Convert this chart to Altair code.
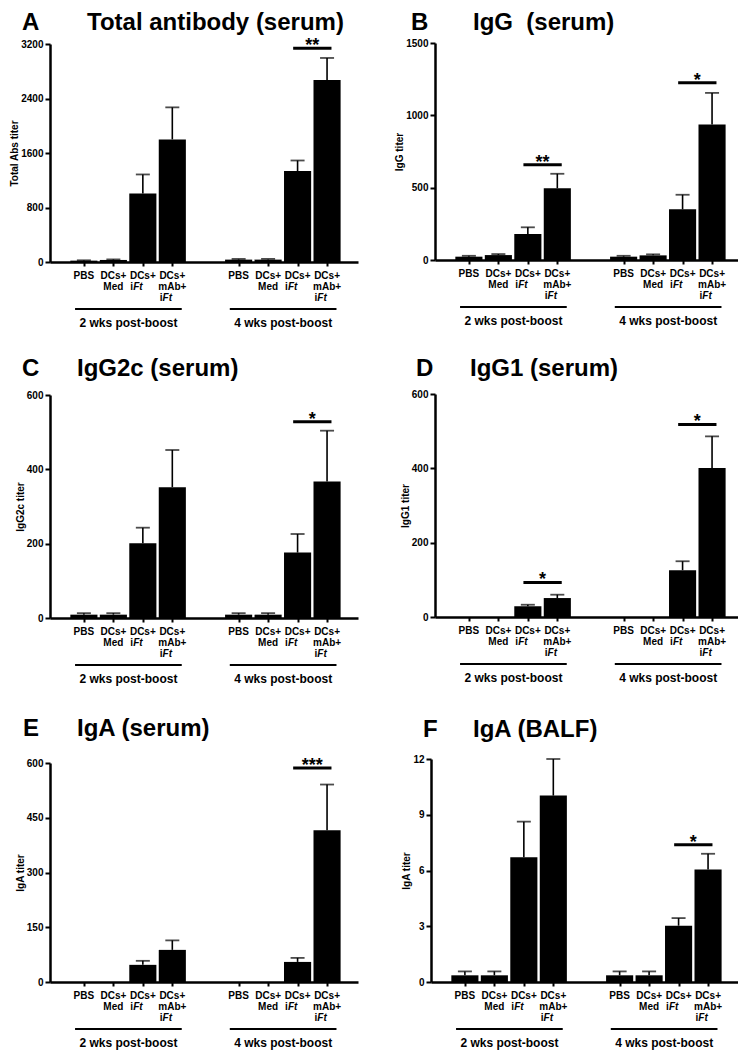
import altair as alt
import pandas as pd

FONT = "Liberation Sans"

# ---------------- data ----------------
groups = ["PBS", "DCs+ Med", "DCs+ iFt", "DCs+ mAb+ iFt"]
timepoints = ["2 wks post-boost", "4 wks post-boost"]
label_row1 = ["PBS", "DCs+", "DCs+", "DCs+"]
label_row2 = ["", "Med", "", "mAb+"]
ift_row = [0, 0, 2, 3]          # label line on which "iFt" is written
bar_slot = [1.15, 2.15, 3.15, 4.15, 6.4, 7.4, 8.4, 9.4]   # x slot of each bar

letters = ["A", "B", "C", "D", "E", "F"]
titles = ["Total antibody (serum)", "IgG\u00a0\u00a0(serum)", "IgG2c (serum)",
          "IgG1 (serum)", "IgA (serum)", "IgA (BALF)"]
ytitles = ["Total Abs titer", "IgG titer", "IgG2c titer", "IgG1 titer", "IgA titer", "IgA titer"]
ymax = [3200, 1500, 600, 600, 600, 12]
yticks = [[0, 800, 1600, 2400, 3200], [0, 500, 1000, 1500], [0, 200, 400, 600],
          [0, 200, 400, 600], [0, 150, 300, 450, 600], [0, 3, 6, 9, 12]]

# means (2 wks x4, then 4 wks x4)
A_mean = [20, 30, 1005, 1800, 35, 35, 1335, 2670]
A_sem = [5, 8, 280, 470, 10, 10, 155, 325]
B_mean = [23, 34, 180, 496, 23, 32, 350, 936]
B_sem = [6, 7, 46, 100, 6, 7, 101, 219]
C_mean = [9, 9, 201, 352, 9, 9, 176, 367]
C_sem = [4, 4, 42, 100, 4, 4, 50, 137]
D_mean = [0, 0, 29, 51, 0, 0, 126, 401]
D_sem = [0, 0, 4, 9, 0, 0, 24, 85]
E_mean = [0, 0, 47, 88, 0, 0, 55, 416]
E_sem = [0, 0, 11, 26, 0, 0, 11, 125]
F_mean = [0.36, 0.36, 6.71, 10.03, 0.36, 0.36, 3.03, 6.05]
F_sem = [0.21, 0.21, 1.92, 1.97, 0.21, 0.21, 0.41, 0.85]
means = [A_mean, B_mean, C_mean, D_mean, E_mean, F_mean]
sems = [A_sem, B_sem, C_sem, D_sem, E_sem, F_sem]

# significance brackets: (timepoint index, height, stars)
sigs = [
    [(1, 3136, "**")],
    [(0, 659, "**"), (1, 1225, "*")],
    [(1, 528, "*")],
    [(0, 93, "*"), (1, 518, "*")],
    [(1, 586, "***")],
    [(1, 7.39, "*")],
]

# ---------------- layout (page pixels) ----------------
layout = [
    dict(ax=50, top=44, base=262, lx=22, tx=87, ty=30),
    dict(ax=435, top=43, base=260, lx=411, tx=473, ty=30),
    dict(ax=50, top=395, base=618, lx=22, tx=77, ty=376),
    dict(ax=435, top=394, base=617, lx=416, tx=470, ty=376),
    dict(ax=50, top=763, base=982, lx=23, tx=77, ty=736),
    dict(ax=431, top=759, base=982, lx=423, tx=473, ty=737),
]
W, H = 730, 1042
M = 8
PANEL_W = 308
XMAX = 10.45

layers = []
for i in range(6):
    lay = layout[i]
    ox = lay["ax"] - M
    top = lay["top"] - M
    base = lay["base"] - M
    xs = alt.Scale(domain=[0, XMAX], range=[ox, ox + PANEL_W], nice=False, zero=False)
    ys = alt.Scale(domain=[0, ymax[i]], range=[base, top], nice=False, zero=True)

    df = pd.DataFrame({"pos": bar_slot, "mean": means[i], "sem": sems[i],
                       "group": groups * 2, "time": [timepoints[0]] * 4 + [timepoints[1]] * 4})
    df["upper"] = df["mean"] + df["sem"]
    df["x0"] = df["pos"] - 0.46
    df["x1"] = df["pos"] + 0.46
    df["zero"] = 0.0
    df["row1"] = label_row1 * 2
    df["row2"] = label_row2 * 2
    df["ift"] = ift_row * 2

    def X(f):
        return alt.X(f"{f}:Q", scale=xs, axis=None)

    def Y(f):
        return alt.Y(f"{f}:Q", scale=ys, axis=None)

    bars = alt.Chart(df).mark_bar(color="black").encode(
        x=alt.X("x0:Q", scale=xs, axis=alt.Axis(
            orient="bottom", offset=-(H - base), values=bar_slot, labels=False, title=None,
            grid=False, tickSize=4, tickWidth=2, tickColor="black", domainWidth=2.5,
            domainColor="black")),
        x2="x1:Q",
        y=alt.Y("mean:Q", scale=ys, axis=alt.Axis(
            orient="left", offset=-ox, values=yticks[i], title=ytitles[i], grid=False,
            tickSize=5, tickWidth=2, tickColor="black", domainWidth=2.5, domainColor="black",
            labelFont=FONT, labelFontSize=10, labelFontWeight="bold", labelColor="black",
            labelPadding=2, titleFont=FONT, titleFontSize=10, titleFontWeight="bold",
            titleColor="black", titlePadding=1, format="d")),
        y2="zero:Q",
    )
    layers.append(bars)

    dfe = df[df["sem"] > 0]
    layers.append(alt.Chart(dfe).mark_rule(color="black", strokeWidth=1.6).encode(
        x=X("pos"), y=Y("mean"), y2="upper:Q"))
    layers.append(alt.Chart(dfe).mark_tick(color="black", orient="horizontal", size=14,
                                           thickness=1.8).encode(x=X("pos"), y=Y("upper")))

    srows = []
    for (g, h, s) in sigs[i]:
        a, b = bar_slot[g * 4 + 2], bar_slot[g * 4 + 3]
        srows.append({"x0": a - 0.15, "x1": b + 0.15, "xc": (a + b) / 2, "y": h, "txt": s})
    dfs = pd.DataFrame(srows)
    layers.append(alt.Chart(dfs).mark_rule(color="black", strokeWidth=3).encode(
        x=X("x0"), x2="x1:Q", y=Y("y")))
    layers.append(alt.Chart(dfs).mark_text(font=FONT, fontSize=18, fontWeight="bold",
                                           baseline="alphabetic", dy=3, color="black").encode(
        x=X("xc"), y=Y("y"), text="txt:N"))

    # category labels
    txt = dict(font=FONT, fontSize=10, fontWeight="bold", baseline="top", color="black")
    layers.append(alt.Chart(df).mark_text(**txt).encode(
        x=X("pos"), y=alt.value(base + 9), text="row1:N"))
    layers.append(alt.Chart(df[df["row2"] != ""]).mark_text(**txt).encode(
        x=X("pos"), y=alt.value(base + 20), text="row2:N"))
    for r in (2, 3):
        dfi = df[df["ift"] == r]
        yy = base + 9 + 11 * (r - 1)
        layers.append(alt.Chart(dfi).mark_text(align="left", dx=-12.5, **txt).encode(
            x=X("pos"), y=alt.value(yy), text=alt.value("i")))
        layers.append(alt.Chart(dfi).mark_text(align="left", dx=-9.7, fontStyle="italic", **txt).encode(
            x=X("pos"), y=alt.value(yy), text=alt.value("Ft")))

    # timepoint brackets
    grows = []
    for g in range(2):
        a, b = bar_slot[g * 4], bar_slot[g * 4 + 3]
        grows.append({"x0": a - 0.3, "x1": b + 0.32, "xc": (a + b) / 2 + 0.01, "t": timepoints[g]})
    dfg = pd.DataFrame(grows)
    layers.append(alt.Chart(dfg).mark_rule(color="black", strokeWidth=2).encode(
        x=X("x0"), x2="x1:Q", y=alt.value(base + 47)))
    layers.append(alt.Chart(dfg).mark_text(font=FONT, fontSize=12, fontWeight="bold",
                                           baseline="top", color="black").encode(
        x=X("xc"), y=alt.value(base + 56), text="t:N"))

    # panel letter and title
    dft = pd.DataFrame({"letter": [letters[i]], "title": [titles[i]]})
    layers.append(alt.Chart(dft).mark_text(font=FONT, fontSize=24, fontWeight="bold",
                                           align="left", baseline="alphabetic", color="black").encode(
        x=alt.value(lay["lx"] - M), y=alt.value(lay["ty"] - M), text="letter:N"))
    layers.append(alt.Chart(dft).mark_text(font=FONT, fontSize=24, fontWeight="bold",
                                           align="left", baseline="alphabetic", color="black").encode(
        x=alt.value(lay["tx"] - M), y=alt.value(lay["ty"] - M), text="title:N"))

chart = alt.layer(*layers).resolve_scale(x="independent", y="independent").resolve_axis(
    x="independent", y="independent").properties(
    width=W, height=H, padding=0, autosize=alt.AutoSizeParams(type="none"),
    background="white").configure_view(stroke=None)

chart.save("out.html", embed_options={"renderer": "svg", "actions": False})
